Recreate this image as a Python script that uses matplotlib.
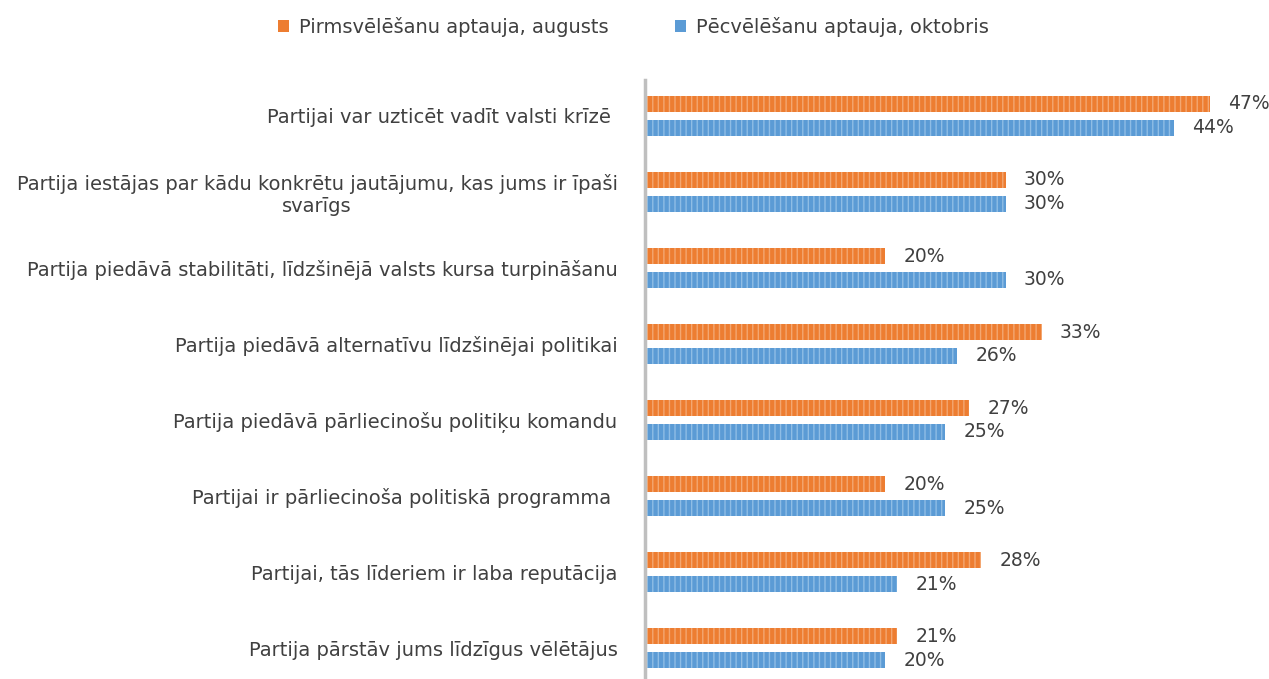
import matplotlib.pyplot as plt
import numpy as np

plt.rcParams['font.family'] = ['DejaVu Sans']

categories = [
    "Partijai var uzticēt vadīt valsti krīzē ",
    "Partija iestājas par kādu konkrētu jautājumu, kas jums ir īpaši\nsvarīgs",
    "Partija piedāvā stabilitāti, līdzšinējā valsts kursa turpināšanu",
    "Partija piedāvā alternatīvu līdzšinējai politikai",
    "Partija piedāvā pārliecinošu politiķu komandu",
    "Partijai ir pārliecinoša politiskā programma ",
    "Partijai, tās līderiem ir laba reputācija",
    "Partija pārstāv jums līdzīgus vēlētājus",
]
augusts = [47, 30, 20, 33, 27, 20, 28, 21]
oktobris = [44, 30, 30, 26, 25, 25, 21, 20]
series_names = ["Pirmsvēlēšanu aptauja, augusts", "Pēcvēlēšanu aptauja, oktobris"]

orange = '#ED7D31'
blue = '#5B9BD5'
text_col = '#404040'

fig = plt.figure(figsize=(12.69, 6.79), dpi=100)
ax = fig.add_axes([0.508, 0.0, 0.492, 0.882])

y = np.arange(len(categories))
off = 0.157
h = 0.21

b1 = ax.barh(y - off, augusts, height=h, color=orange, label=series_names[0])
b2 = ax.barh(y + off, oktobris, height=h, color=blue, label=series_names[1])
# faint vertical stripes like the original
ax.barh(y - off, augusts, height=h, color='none', edgecolor='#F3A772', hatch='|||', linewidth=0)
ax.barh(y + off, oktobris, height=h, color='none', edgecolor='#8FBDE5', hatch='|||', linewidth=0)

for yy, v in zip(y - off, augusts):
    ax.text(v + 1.5, yy, f"{v}%", va='center', ha='left', fontsize=13.5, color=text_col)
for yy, v in zip(y + off, oktobris):
    ax.text(v + 1.5, yy, f"{v}%", va='center', ha='left', fontsize=13.5, color=text_col)

ax.set_xlim(0, 51.9)
ax.set_ylim(7.405, -0.47)
ax.set_yticks(y)
ax.set_yticklabels(categories, fontsize=14, color=text_col, multialignment='center')
ax.tick_params(axis='y', length=0, pad=19.5)
ax.set_xticks([])
for s in ['top', 'right', 'bottom']:
    ax.spines[s].set_visible(False)
ax.spines['left'].set_color('#BFBFBF')
ax.spines['left'].set_linewidth(2.5)

fig.legend(handles=[b1, b2], labels=series_names, loc='center', bbox_to_anchor=(0.499, 0.96),
           ncol=2, frameon=False, fontsize=14, handlelength=0.6, handleheight=0.6,
           columnspacing=3.4, handletextpad=0.5, labelcolor=text_col)

plt.savefig("out.png", dpi=100)
plt.close()
